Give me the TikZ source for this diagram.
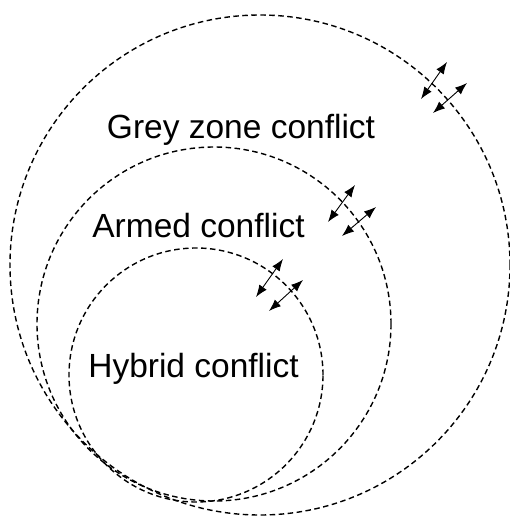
\documentclass[tikz,border=0pt]{standalone}
\usepackage{fontspec}
\setmainfont[Ligatures=NoCommon]{Liberation Sans}
\usetikzlibrary{arrows.meta}
\begin{document}
\begin{tikzpicture}[x=1pt,y=-1pt,
  ring/.style={circle,draw,line width=1.4pt,dash pattern=on 5.5pt off 3.5pt,inner sep=0pt},
  label/.style={anchor=base,font=\fontsize{33.5}{36}\selectfont},
  dbl/.style={{Latex[length=12pt,width=9pt]}-{Latex[length=12pt,width=9pt]},line width=0.9pt}]
\useasboundingbox (0,0) rectangle (509,517);
\node[ring,minimum size=500pt] (outer) at (260,265) {};
\node[ring,minimum size=354pt] (middle) at (214,324) {};
\node[ring,minimum size=254pt] (inner) at (196,375) {};
\node[label] (grey) at (241,138) {Grey zone conflict};
\node[label] (armed) at (198.5,237) {Armed conflict};
\node[label] (hybrid) at (193.5,377) {Hybrid conflict};
% outer arrows
\coordinate (o1a) at (421,99); \coordinate (o1b) at (447,62);
\coordinate (o2a) at (433,113); \coordinate (o2b) at (467,83);
\draw[dbl] (o1a) -- (o1b);
\draw[dbl] (o2a) -- (o2b);
% middle arrows
\coordinate (m1a) at (328,222); \coordinate (m1b) at (355,185);
\coordinate (m2a) at (342,236); \coordinate (m2b) at (376,207);
\draw[dbl] (m1a) -- (m1b);
\draw[dbl] (m2a) -- (m2b);
% inner arrows
\coordinate (i1a) at (256,297); \coordinate (i1b) at (283,259);
\coordinate (i2a) at (269,311); \coordinate (i2b) at (303,280);
\draw[dbl] (i1a) -- (i1b);
\draw[dbl] (i2a) -- (i2b);
\end{tikzpicture}
\end{document}
